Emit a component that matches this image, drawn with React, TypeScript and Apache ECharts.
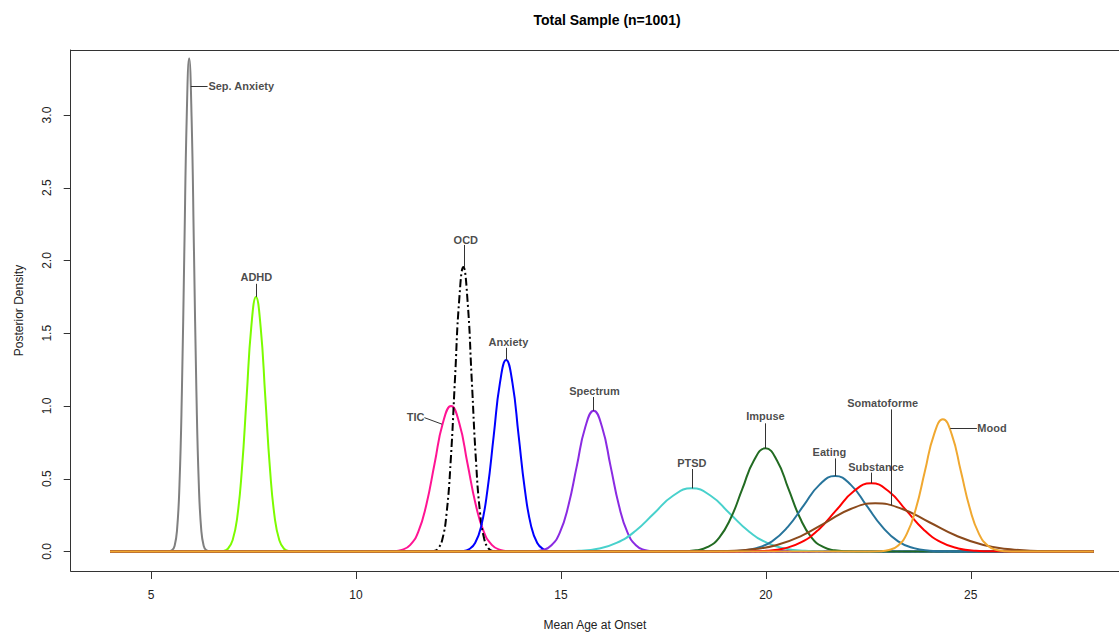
import React, { useEffect, useRef } from "react";
import * as echarts from "echarts";

// Density curves: [age, density] pairs
const sepAnxiety = [[4, 0], [5.399, 0], [5.517, 0.01], [5.576, 0.04], [5.635, 0.15], [5.694, 0.46], [5.753, 1.10], [5.812, 2.06], [5.871, 2.99], [5.93, 3.39], [5.989, 2.99], [6.048, 2.06], [6.107, 1.10], [6.166, 0.46], [6.225, 0.15], [6.284, 0.04], [6.343, 0.01], [6.461, 0], [28, 0]];
const adhd = [[4, 0], [6.534, 0], [6.762, 0.004], [6.876, 0.019], [6.99, 0.077], [7.104, 0.237], [7.218, 0.568], [7.332, 1.061], [7.446, 1.544], [7.56, 1.75], [7.674, 1.544], [7.788, 1.061], [7.902, 0.568], [8.016, 0.237], [8.13, 0.077], [8.244, 0.019], [8.358, 0.004], [8.586, 0], [28, 0]];
const tic = [[4, 0], [10.52, 0], [10.92, 0.002], [11.12, 0.011], [11.32, 0.044], [11.52, 0.135], [11.72, 0.325], [11.92, 0.607], [12.12, 0.883], [12.32, 1.0], [12.52, 0.883], [12.72, 0.607], [12.92, 0.325], [13.12, 0.135], [13.32, 0.044], [13.52, 0.011], [13.72, 0.002], [14.12, 0], [28, 0]];
const ocd = [[4, 0], [11.702, 0], [11.906, 0.004], [12.008, 0.022], [12.11, 0.086], [12.212, 0.265], [12.314, 0.635], [12.416, 1.186], [12.518, 1.725], [12.62, 1.955], [12.722, 1.725], [12.824, 1.186], [12.926, 0.635], [13.028, 0.265], [13.13, 0.086], [13.232, 0.022], [13.334, 0.004], [13.538, 0], [28, 0]];
const anxiety = [[4, 0], [12.30, 0], [12.604, 0.003], [12.756, 0.015], [12.907, 0.058], [13.059, 0.178], [13.21, 0.427], [13.362, 0.798], [13.514, 1.161], [13.665, 1.316], [13.817, 1.161], [13.968, 0.798], [14.12, 0.427], [14.271, 0.178], [14.423, 0.058], [14.575, 0.015], [14.726, 0.003], [15.03, 0], [28, 0]];
const spectrum = [[4, 0], [13.946, 0], [14.358, 0.002], [14.564, 0.011], [14.77, 0.043], [14.976, 0.131], [15.182, 0.314], [15.388, 0.587], [15.594, 0.854], [15.8, 0.968], [16.006, 0.854], [16.212, 0.587], [16.418, 0.314], [16.624, 0.131], [16.83, 0.043], [17.036, 0.011], [17.242, 0.002], [17.654, 0], [28, 0]];
const ptsd = [[4, 0], [14.06, 0], [14.979, 0.001], [15.438, 0.005], [15.898, 0.019], [16.357, 0.059], [16.817, 0.141], [17.276, 0.263], [17.736, 0.383], [18.195, 0.434], [18.655, 0.383], [19.114, 0.263], [19.574, 0.141], [20.033, 0.059], [20.493, 0.019], [20.952, 0.005], [21.412, 0.001], [22.33, 0], [28, 0]];
const impuse = [[4, 0], [17.457, 0], [18.02, 0.002], [18.301, 0.008], [18.583, 0.031], [18.864, 0.096], [19.146, 0.230], [19.427, 0.430], [19.709, 0.626], [19.99, 0.709], [20.272, 0.626], [20.553, 0.430], [20.835, 0.230], [21.116, 0.096], [21.398, 0.031], [21.679, 0.008], [21.96, 0.002], [22.524, 0], [28, 0]];
const eating = [[4, 0], [18.23, 0], [18.999, 0.001], [19.383, 0.006], [19.768, 0.023], [20.152, 0.070], [20.537, 0.169], [20.921, 0.315], [21.306, 0.458], [21.69, 0.519], [22.075, 0.458], [22.459, 0.315], [22.844, 0.169], [23.228, 0.070], [23.613, 0.023], [23.997, 0.006], [24.382, 0.001], [25.15, 0], [28, 0]];
const substance = [[4, 0], [18.74, 0], [19.592, 0.001], [20.017, 0.005], [20.443, 0.021], [20.868, 0.064], [21.294, 0.152], [21.719, 0.284], [22.145, 0.414], [22.57, 0.469], [22.996, 0.414], [23.421, 0.284], [23.847, 0.152], [24.272, 0.064], [24.698, 0.021], [25.123, 0.005], [25.549, 0.001], [26.40, 0], [28, 0]];
const somatoforme = [[4, 0], [17.27, 0], [18.47, 0.001], [19.07, 0.004], [19.67, 0.015], [20.27, 0.045], [20.87, 0.108], [21.47, 0.201], [22.07, 0.292], [22.67, 0.331], [23.33, 0.292], [23.99, 0.201], [24.65, 0.108], [25.31, 0.045], [25.97, 0.015], [26.63, 0.004], [27.29, 0.001], [28, 0]];
const mood = [[4, 0], [22.345, 0], [22.784, 0.002], [23.003, 0.010], [23.223, 0.040], [23.442, 0.123], [23.662, 0.295], [23.881, 0.551], [24.101, 0.802], [24.32, 0.909], [24.54, 0.802], [24.759, 0.551], [24.979, 0.295], [25.198, 0.123], [25.418, 0.040], [25.637, 0.010], [25.857, 0.002], [26.296, 0], [28, 0]];

const curveNames = ["Sep. Anxiety", "ADHD", "TIC", "OCD", "Anxiety", "Spectrum", "PTSD", "Impuse", "Eating", "Substance", "Somatoforme", "Mood"];
const curveData = [sepAnxiety, adhd, tic, ocd, anxiety, spectrum, ptsd, impuse, eating, substance, somatoforme, mood];
const curveColors = ["#808080", "#7CFC00", "#FF1493", "#000000", "#0000FF", "#8A2BE2", "#48D1CC", "#226B22", "#27749B", "#FF0000", "#8B4A1C", "#F0A830"];

// Annotation labels (data coords) and leader segments
const labelNames = ["Sep. Anxiety", "ADHD", "OCD", "Anxiety", "TIC", "Spectrum", "PTSD", "Impuse", "Eating", "Substance", "Somatoforme", "Mood"];
const labelX = [6.40, 7.57, 12.68, 13.72, 11.67, 15.82, 18.195, 19.99, 21.55, 22.69, 22.85, 25.16];
const labelY = [3.20, 1.885, 2.14, 1.442, 0.926, 1.103, 0.61, 0.933, 0.686, 0.579, 1.023, 0.847];
const labelAlign = ["left", "center", "center", "center", "right", "center", "center", "center", "center", "center", "center", "left"];
const leaderLines = [
  [[5.97, 3.20], [6.38, 3.20]],
  [[7.57, 1.75], [7.57, 1.84]],
  [[12.63, 1.955], [12.63, 2.107]],
  [[13.665, 1.316], [13.665, 1.40]],
  [[11.67, 0.92], [12.10, 0.875]],
  [[15.80, 0.968], [15.80, 1.062]],
  [[18.195, 0.434], [18.195, 0.567]],
  [[19.99, 0.709], [19.99, 0.881]],
  [[21.69, 0.519], [21.69, 0.64]],
  [[22.57, 0.469], [22.57, 0.542]],
  [[23.07, 0.316], [23.07, 0.977]],
  [[24.5, 0.847], [25.15, 0.847]],
];

const xTicks = [5, 10, 15, 20, 25];
const yTicks = [0, 0.5, 1, 1.5, 2, 2.5, 3];

const FONT = "'Liberation Sans', Arial, sans-serif";

export default function App() {
  const ref = useRef<HTMLDivElement>(null);
  useEffect(() => {
    if (!ref.current) return;
    const chart = echarts.init(ref.current, null, { renderer: "svg" });
    const curveSeries = curveData.map((d, i) => ({
      type: "line",
      name: curveNames[i],
      data: d,
      showSymbol: false,
      symbol: "none",
      smooth: 0.5,
      lineStyle: {
        color: curveColors[i],
        width: 2,
        type: curveNames[i] === "OCD" ? [8, 3, 2, 3] : "solid",
      },
      z: 2 + i * 0.01,
    }));
    chart.setOption({
      animation: false,
      backgroundColor: "#ffffff",
      textStyle: { fontFamily: FONT },
      title: {
        text: "Total Sample (n=1001)",
        left: 602,
        textAlign: "center",
        top: 8,
        textStyle: { fontFamily: FONT, fontSize: 14, fontWeight: "bold", color: "#000" },
      },
      grid: {
        left: 70.7,
        right: 0,
        top: 50,
        bottom: 61,
        show: false,
        containLabel: false,
        outerBoundsMode: "none",
      },
      xAxis: [
        {
          type: "value",
          min: 3.04,
          max: 28.617,
          name: "Mean Age at Onset",
          nameLocation: "middle",
          nameGap: 48,
          nameTextStyle: { fontFamily: FONT, fontSize: 12, color: "#222" },
          axisLine: { show: true, onZero: false, lineStyle: { color: "#333", width: 1 } },
          axisTick: { show: true, length: 8, customValues: xTicks, lineStyle: { color: "#333" } },
          axisLabel: { show: true, customValues: xTicks, margin: 18, fontSize: 12, color: "#222", fontFamily: FONT },
          splitLine: { show: false },
        },
        {
          type: "value",
          position: "top",
          min: 3.04,
          max: 28.617,
          axisLine: { show: true, onZero: false, lineStyle: { color: "#333", width: 1 } },
          axisTick: { show: false },
          axisLabel: { show: false },
          splitLine: { show: false },
        },
      ],
      yAxis: {
        type: "value",
        min: -0.134,
        max: 3.447,
        name: "Posterior Density",
        nameLocation: "middle",
        nameRotate: 90,
        nameGap: 46,
        nameTextStyle: { fontFamily: FONT, fontSize: 12, color: "#222" },
        axisLine: { show: true, onZero: false, lineStyle: { color: "#333", width: 1 } },
        axisTick: { show: true, length: 7, customValues: yTicks, lineStyle: { color: "#333" } },
        axisLabel: {
          show: true,
          customValues: yTicks,
          rotate: 90,
          margin: 18,
          fontSize: 12,
          color: "#222",
          fontFamily: FONT,
          formatter: (v: number) => v.toFixed(1),
        },
        splitLine: { show: false },
      },
      series: [
        ...curveSeries,
        {
          type: "lines",
          coordinateSystem: "cartesian2d",
          data: leaderLines.map((c) => ({ coords: c })),
          lineStyle: { color: "#333", width: 1, opacity: 1 },
          symbol: ["none", "none"],
          silent: true,
          z: 5,
        },
        {
          type: "scatter",
          symbol: "circle",
          symbolSize: 1,
          itemStyle: { color: "rgba(0,0,0,0)" },
          data: labelNames.map((n, i) => ({
            name: n,
            value: [labelX[i], labelY[i]],
            label: { align: labelAlign[i] },
          })),
          label: {
            show: true,
            position: "inside",
            verticalAlign: "middle",
            formatter: (p: any) => p.name,
            fontFamily: FONT,
            fontSize: 11,
            fontWeight: "bold",
            color: "#1a1a1a",
          },
          silent: true,
          z: 6,
        },
      ],
    });
    return () => chart.dispose();
  }, []);
  return (
    <div
      ref={ref}
      style={{ position: "fixed", left: 0, top: 0, width: 1119, height: 632, background: "#fff" }}
    />
  );
}
